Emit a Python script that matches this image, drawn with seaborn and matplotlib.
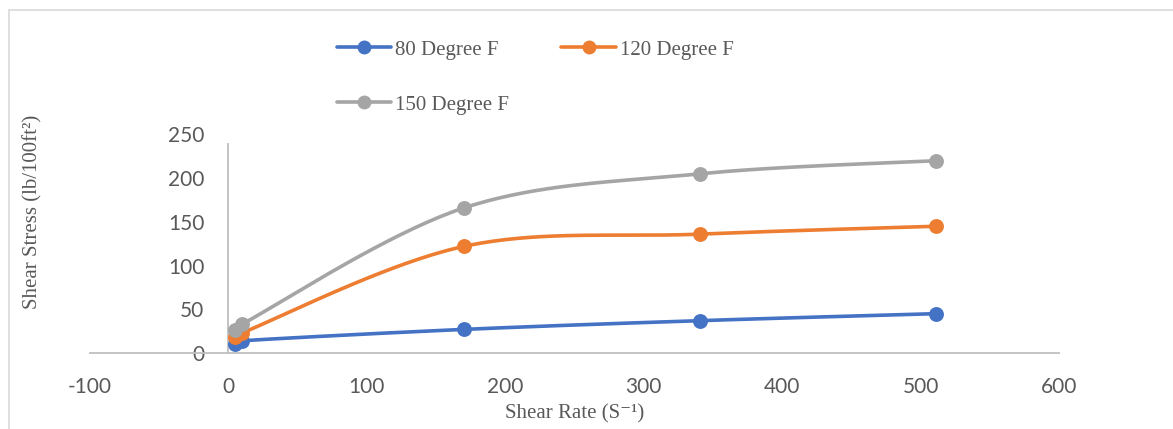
import numpy as np
import pandas as pd
import matplotlib
matplotlib.use("Agg")
import matplotlib.pyplot as plt
from matplotlib.lines import Line2D
import seaborn as sns

# ---- data ----
shear_rate = [5.11, 10.22, 170.3, 340.6, 511.0]
stress_80 = [10, 14, 27, 37, 45]
stress_120 = [18, 23, 122, 136, 145]
stress_150 = [26, 33, 166, 205, 220]
series_labels = ["80 Degree F", "120 Degree F", "150 Degree F"]
series_colors = ["#4472C4", "#ED7D31", "#A5A5A5"]
x_ticks = [-100, 0, 100, 200, 300, 400, 500, 600]
y_ticks = [0, 50, 100, 150, 200, 250]


def smooth(xs, ys, n=40):
    """Excel-like smoothed line (Catmull-Rom Bezier) through the points."""
    P = np.column_stack([xs, ys]).astype(float)
    out = []
    m = len(P)
    for i in range(m - 1):
        p0 = P[i - 1] if i > 0 else P[i]
        p1, p2 = P[i], P[i + 1]
        p3 = P[i + 2] if i + 2 < m else P[i + 1]
        dx = p2[0] - p1[0]
        d1 = (p2 - p0) / 6.0
        d2 = (p3 - p1) / 6.0
        if d1[0] > dx / 2:
            d1 = d1 * (dx / 2) / d1[0]
        if d2[0] > dx / 2:
            d2 = d2 * (dx / 2) / d2[0]
        c1 = p1 + d1
        c2 = p2 - d2
        t = np.linspace(0, 1, n)[:, None]
        seg = ((1 - t) ** 3) * p1 + 3 * ((1 - t) ** 2) * t * c1 + 3 * (1 - t) * t ** 2 * c2 + t ** 3 * p2
        out.append(seg if i == 0 else seg[1:])
    s = np.vstack(out)
    return s[:, 0], s[:, 1]


sns.set_theme(style="white")
plt.rcParams["font.family"] = ["Lato", "DejaVu Sans"]

fig = plt.figure(figsize=(11.73, 4.29), dpi=100)
ax = fig.add_axes([89.5 / 1173, 76 / 429, (1059 - 89.5) / 1173, 218.5 / 429])

lw = 2.6
for ys, lab, col in zip([stress_80, stress_120, stress_150], series_labels, series_colors):
    sx, sy = smooth(shear_rate, ys)
    df = pd.DataFrame({"x": sx, "y": sy})
    sns.lineplot(data=df, x="x", y="y", sort=False, color=col, linewidth=lw, ax=ax,
                 estimator=None, legend=False, zorder=3)
    pts = pd.DataFrame({"x": shear_rate, "y": ys})
    sns.scatterplot(data=pts, x="x", y="y", color=col, s=115, edgecolor=col,
                    linewidth=0, ax=ax, legend=False, zorder=4)

ax.set_xlim(-100, 600)
ax.set_ylim(0, 250)
ax.set_xticks(x_ticks)
ax.set_yticks(y_ticks)
ax.set_xticklabels([str(v) for v in x_ticks])
ax.set_yticklabels([str(v) for v in y_ticks])
ax.tick_params(axis="both", length=0, labelsize=15, labelcolor="#595959")
ax.tick_params(axis="x", pad=17)
ax.tick_params(axis="y", pad=17)
ax.grid(False)

for s in ["top", "right"]:
    ax.spines[s].set_visible(False)
ax.spines["left"].set_position(("data", 0))
ax.spines["left"].set_bounds(0, 239)
for s in ["left", "bottom"]:
    ax.spines[s].set_color("#BFBFBF")
    ax.spines[s].set_linewidth(1.3)

ax.set_xlabel("")
ax.set_ylabel("")

serif = ["Liberation Serif", "DejaVu Serif"]
fig.text(575 / 1173, 1 - 414 / 429, "Shear Rate (S\u207b\u00b9)", ha="center", va="center",
         fontsize=15, color="#595959", family=serif)
fig.text(33 / 1173, 1 - 212 / 429, "Shear Stress (lb/100ft\u00b2)", ha="center", va="center",
         rotation=90, fontsize=15, color="#595959", family=serif)

handles = {lab: Line2D([0], [0], color=c, lw=lw, marker="o", markersize=10, markeredgewidth=0)
           for lab, c in zip(series_labels, series_colors)}
# row-major order: row1 = 80, 120 ; row2 = 150
order = [series_labels[0], series_labels[2], series_labels[1]]
leg = fig.legend([handles[k] for k in order], order, loc="upper left",
                 bbox_to_anchor=(337 / 1173, 1 - 40 / 429), ncol=2, frameon=False,
                 borderpad=0, borderaxespad=0, handlelength=2.6, handletextpad=0.2,
                 columnspacing=2.5, labelspacing=1.7,
                 prop={"family": serif, "size": 15})
for t in leg.get_texts():
    t.set_color("#595959")

# chart area border (top and left edges visible in reference)
fig.add_artist(Line2D([9 / 1173, 9 / 1173], [0, 1 - 10 / 429], transform=fig.transFigure,
                      color="#D9D9D9", lw=1.2))
fig.add_artist(Line2D([9 / 1173, 1], [1 - 10 / 429, 1 - 10 / 429], transform=fig.transFigure,
                      color="#D9D9D9", lw=1.2))

fig.savefig("out.png", dpi=100)
